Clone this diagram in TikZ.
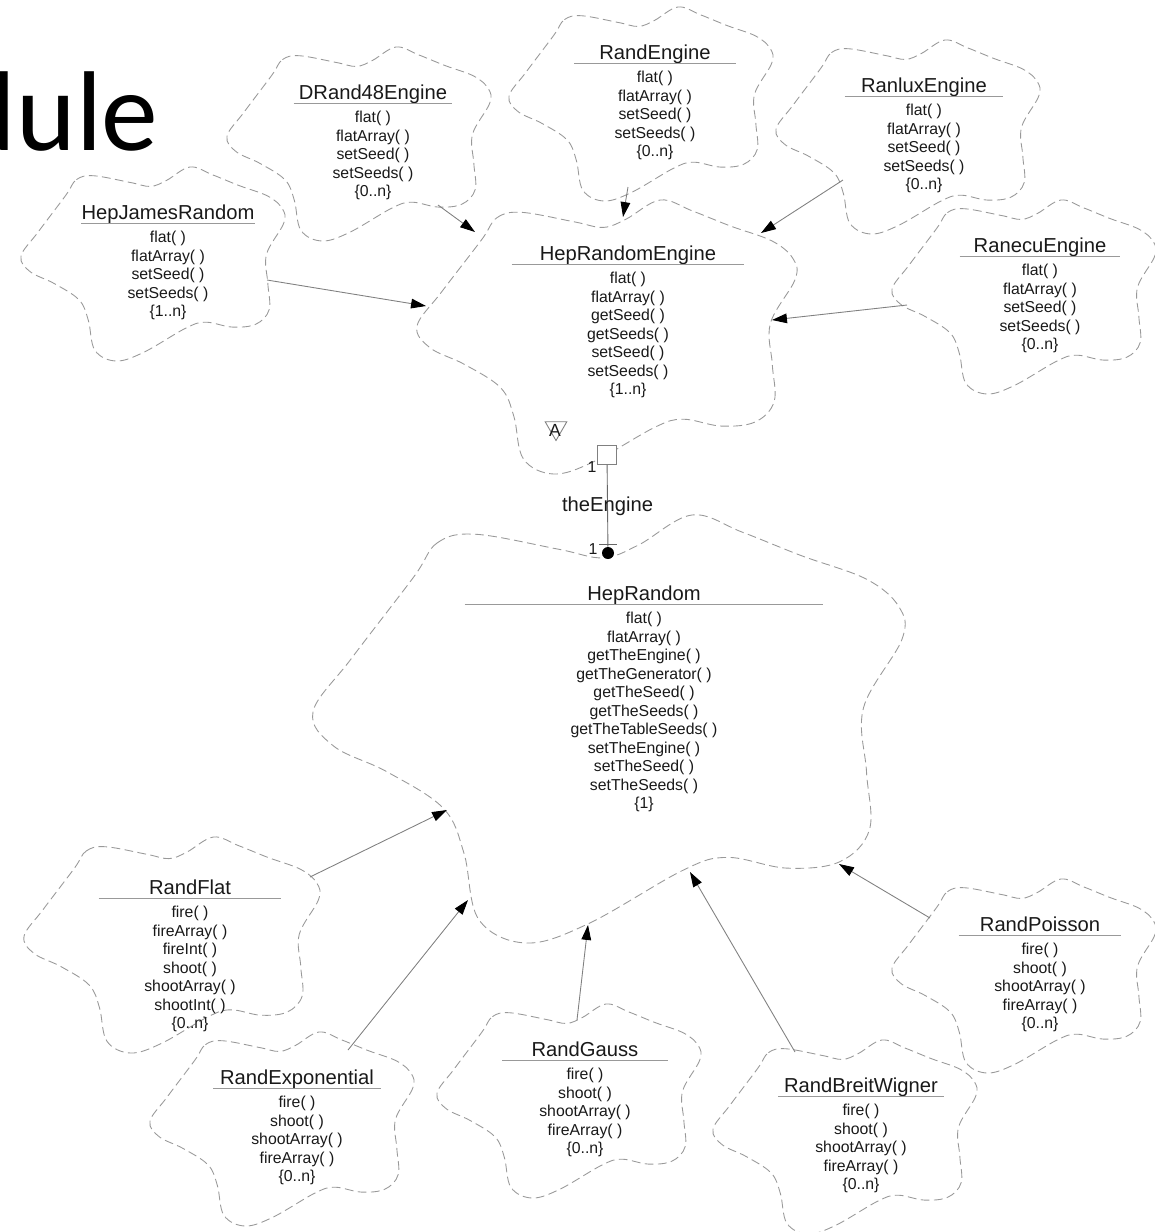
\documentclass[tikz,border=0pt]{standalone}
\usepackage{fontspec}
\setmainfont{Liberation Sans}
\newfontfamily\slidefont{Carlito}
\usetikzlibrary{positioning, arrows.meta, shapes.geometric}
\tikzstyle{cloudedge} = [draw=black!40, line width=0.5pt, dash pattern=on 5pt off 2.5pt]
\tikzstyle{classname} = [anchor=base, inner sep=0pt, text depth=2.5pt, font=\fontsize{11.5}{13}\selectfont]
\tikzstyle{ops} = [inner sep=0pt, align=center, font=\fontsize{9}{10.55}\selectfont]
\tikzstyle{rule} = [draw=black!40, line width=0.6pt]
\tikzstyle{arrow} = [draw=black!50, line width=0.5pt, -{Triangle[length=8.5pt, width=5.5pt, color=black]}]
\tikzstyle{card} = [inner sep=0pt, font=\fontsize{9}{10}\selectfont]
\newcommand{\boochcloud}[4]{%
  \draw [cloudedge, shift={(#1,#2)}, xscale=#3, yscale=#4]
    plot [smooth cycle, tension=0.6] coordinates {(-0.66,-0.71) (-0.58,-0.87) (-0.45,-0.91) (-0.17,-0.84)
      (-0.02,-0.80) (0.10,-0.86) (0.28,-1.00) (0.45,-0.92) (0.65,-0.81) (0.87,-0.70) (0.98,-0.57)
      (0.99,-0.42) (0.86,-0.10) (0.87,0.20) (0.88,0.47) (0.78,0.62) (0.60,0.65) (0.40,0.60) (0.25,0.66)
      (-0.07,0.91) (-0.28,1.00) (-0.44,0.89) (-0.49,0.58) (-0.56,0.37) (-0.75,0.20) (-0.93,0.08)
      (-1.00,-0.08) (-0.87,-0.33)};}

\begin{document}
\begin{tikzpicture}[x=0.02cm, y=-0.02cm, text=black!90]
    \useasboundingbox (0,0) rectangle (1155,1232);
    \begin{scope}
        \clip (0,0) rectangle (1155,1232);
        \node (slide) [anchor=base east, inner sep=0pt, text=black, font=\slidefont\fontsize{64.6}{70}\selectfont] at (159,150) {Module};
    \end{scope}

    \boochcloud{607}{337}{190}{137}
    \boochcloud{609}{729}{296}{214}
    \boochcloud{641}{104}{132}{97}
    \boochcloud{359}{144}{132}{97}
    \boochcloud{908}{137}{132}{97}
    \boochcloud{1024}{297}{132}{97}
    \boochcloud{153}{264}{132}{97}
    \boochcloud{172}{945}{148}{108}
    \boochcloud{282}{1129}{132}{97}
    \boochcloud{569}{1101}{132}{97}
    \boochcloud{845}{1137}{132}{97}
    \boochcloud{1024}{976}{132}{97}

    \node (hre) [classname, minimum width=4.64cm] at (628,260) {HepRandomEngine};
    \node (hreOps) [ops, below=4pt of hre] {flat( )\\flatArray( )\\getSeed( )\\getSeeds( )\\setSeed( )\\setSeeds( )\\\{1..n\}};
    \node (hr) [classname, minimum width=7.16cm] at (644,600) {HepRandom};
    \node (hrOps) [ops, below=4pt of hr] {flat( )\\flatArray( )\\getTheEngine( )\\getTheGenerator( )\\getTheSeed( )\\getTheSeeds( )\\getTheTableSeeds( )\\setTheEngine( )\\setTheSeed( )\\setTheSeeds( )\\\{1\}};
    \node (randEngine) [classname, minimum width=3.22cm] at (655,59) {RandEngine};
    \node (randEngineOps) [ops, below=4pt of randEngine] {flat( )\\flatArray( )\\setSeed( )\\setSeeds( )\\\{0..n\}};
    \node (drand) [classname, minimum width=3.16cm] at (373,99) {DRand48Engine};
    \node (drandOps) [ops, below=4pt of drand] {flat( )\\flatArray( )\\setSeed( )\\setSeeds( )\\\{0..n\}};
    \node (ranlux) [classname, minimum width=3.16cm] at (924,92) {RanluxEngine};
    \node (ranluxOps) [ops, below=4pt of ranlux] {flat( )\\flatArray( )\\setSeed( )\\setSeeds( )\\\{0..n\}};
    \node (ranecu) [classname, minimum width=3.2cm] at (1040,252) {RanecuEngine};
    \node (ranecuOps) [ops, below=4pt of ranecu] {flat( )\\flatArray( )\\setSeed( )\\setSeeds( )\\\{0..n\}};
    \node (james) [classname, minimum width=3.16cm] at (168,219) {HepJamesRandom};
    \node (jamesOps) [ops, below=4pt of james] {flat( )\\flatArray( )\\setSeed( )\\setSeeds( )\\\{1..n\}};
    \node (randFlat) [classname, minimum width=3.64cm] at (190,894) {RandFlat};
    \node (randFlatOps) [ops, below=4pt of randFlat] {fire( )\\fireArray( )\\fireInt( )\\shoot( )\\shootArray( )\\shootInt( )\\\{0..n\}};
    \node (randExp) [classname, minimum width=3.34cm] at (297,1084) {RandExponential};
    \node (randExpOps) [ops, below=4pt of randExp] {fire( )\\shoot( )\\shootArray( )\\fireArray( )\\\{0..n\}};
    \node (randGauss) [classname, minimum width=3.3cm] at (585,1056) {RandGauss};
    \node (randGaussOps) [ops, below=4pt of randGauss] {fire( )\\shoot( )\\shootArray( )\\fireArray( )\\\{0..n\}};
    \node (randBW) [classname, minimum width=3.3cm] at (861,1092) {RandBreitWigner};
    \node (randBWOps) [ops, below=4pt of randBW] {fire( )\\shoot( )\\shootArray( )\\fireArray( )\\\{0..n\}};
    \node (randPoisson) [classname, minimum width=3.24cm] at (1040,931) {RandPoisson};
    \node (randPoissonOps) [ops, below=4pt of randPoisson] {fire( )\\shoot( )\\shootArray( )\\fireArray( )\\\{0..n\}};

    \foreach \n in {hre, hr, randEngine, drand, ranlux, ranecu, james, randFlat, randExp, randGauss, randBW, randPoisson}
        \draw [rule] (\n.south west) -- (\n.south east);

    \node (abstractMark) [regular polygon, regular polygon sides=3, shape border rotate=180, draw=black!50, line width=0.5pt, minimum size=0.5cm, inner sep=0pt] at (556,428) {};
    \node (abstractA) [inner sep=0pt, font=\fontsize{10}{12}\selectfont] at (555,430) {A};
    \node (engineBox) [draw=black!50, fill=white, line width=0.5pt, minimum size=0.38cm, inner sep=0pt] at (607,455) {};
    \node (engineDot) [circle, fill=black, minimum size=0.24cm, inner sep=0pt] at (608,553) {};
    \node (cardBox) [card] at (592,467) {1};
    \node (cardDot) [card] at (593,549) {1};
    \coordinate (tickL) at (599,544);
    \coordinate (tickR) at (617,544);
    \draw [draw=black!60, line width=0.5pt] (engineBox) -- (engineDot) node [midway, font=\fontsize{11.5}{13}\selectfont] {theEngine};
    \draw [draw=black!60, line width=0.5pt] (tickL) -- (tickR);

    \coordinate (drandOut) at (438,205);
    \coordinate (drandIn) at (475,232);
    \coordinate (randEngineOut) at (628,187);
    \coordinate (randEngineIn) at (623,217);
    \coordinate (ranluxOut) at (843,180);
    \coordinate (ranluxIn) at (761,233);
    \coordinate (jamesOut) at (267,280);
    \coordinate (jamesIn) at (426,306);
    \coordinate (ranecuOut) at (907,305);
    \coordinate (ranecuIn) at (772,320);
    \coordinate (randFlatOut) at (310,877);
    \coordinate (randFlatIn) at (447,810);
    \coordinate (randExpOut) at (348,1050);
    \coordinate (randExpIn) at (468,900);
    \coordinate (randGaussOut) at (577,1020);
    \coordinate (randGaussIn) at (588,925);
    \coordinate (randBWOut) at (795,1052);
    \coordinate (randBWIn) at (690,872);
    \coordinate (randPoissonOut) at (930,918);
    \coordinate (randPoissonIn) at (839,864);

    \draw [arrow] (drandOut) -- (drandIn);
    \draw [arrow] (randEngineOut) -- (randEngineIn);
    \draw [arrow] (ranluxOut) -- (ranluxIn);
    \draw [arrow] (jamesOut) -- (jamesIn);
    \draw [arrow] (ranecuOut) -- (ranecuIn);
    \draw [arrow] (randFlatOut) -- (randFlatIn);
    \draw [arrow] (randExpOut) -- (randExpIn);
    \draw [arrow] (randGaussOut) -- (randGaussIn);
    \draw [arrow] (randBWOut) -- (randBWIn);
    \draw [arrow] (randPoissonOut) -- (randPoissonIn);
\end{tikzpicture}
\end{document}
